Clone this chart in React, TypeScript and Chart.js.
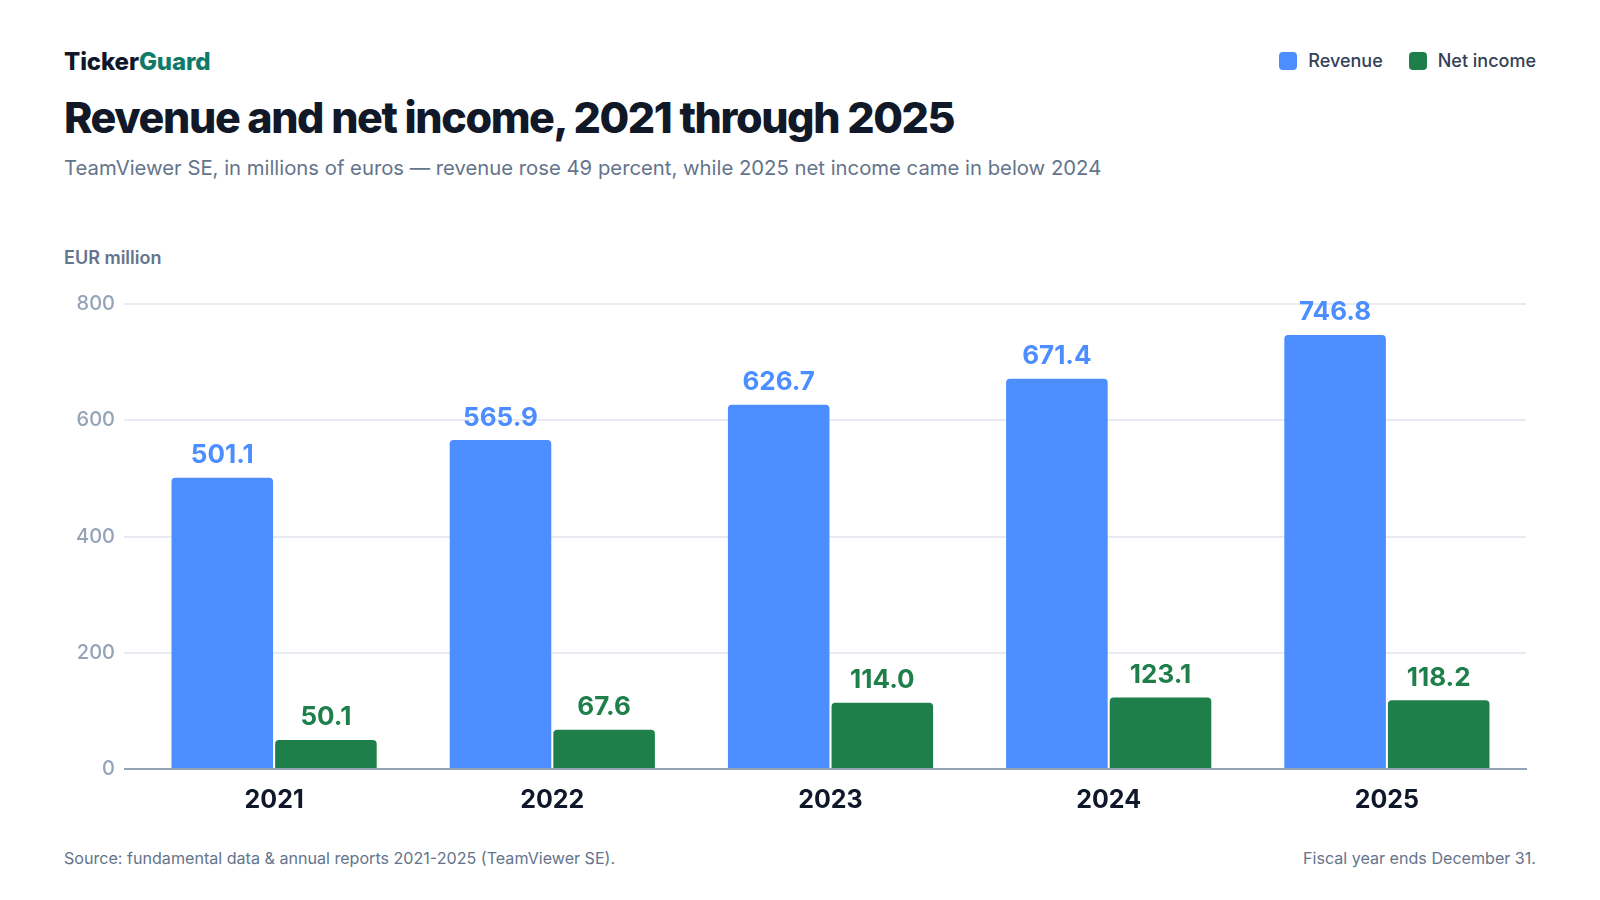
import { useEffect, useRef } from 'react';
import { Chart, registerables } from 'chart.js';

Chart.register(...registerables);

const years = ['2021', '2022', '2023', '2024', '2025'];
const revenue = [501.1, 565.9, 626.7, 671.4, 746.8];
const netIncome = [50.1, 67.6, 114.0, 123.1, 118.2];
const yTicks = [0, 200, 400, 600, 800];

const BLUE = '#4c8dff';
const GREEN = '#1e7f4b';
const AXIS = '#94a3b8';
const FONT = 'Inter, "Noto Sans", sans-serif';

// draws the value above every bar
const valueLabels = {
  id: 'valueLabels',
  afterDatasetsDraw(chart) {
    const ctx = chart.ctx;
    ctx.save();
    ctx.font = `700 26px ${FONT}`;
    ctx.textAlign = 'center';
    ctx.textBaseline = 'alphabetic';
    chart.data.datasets.forEach((ds, i) => {
      const meta = chart.getDatasetMeta(i);
      ctx.fillStyle = ds.backgroundColor;
      meta.data.forEach((bar, j) => {
        ctx.fillText(ds.data[j].toFixed(1), bar.x, bar.y - 14.5);
      });
    });
    ctx.restore();
  },
};

const BarChart = () => {
  const chartRef = useRef(null);

  useEffect(() => {
    const ctx = chartRef.current.getContext('2d');

    const chart = new Chart(ctx, {
      type: 'bar',
      data: {
        labels: years,
        datasets: [
          {
            label: 'Revenue',
            data: revenue,
            backgroundColor: BLUE,
            borderRadius: 4,
            categoryPercentage: 0.745,
            barPercentage: 0.98,
          },
          {
            label: 'Net income',
            data: netIncome,
            backgroundColor: GREEN,
            borderRadius: 4,
            categoryPercentage: 0.745,
            barPercentage: 0.98,
          },
        ],
      },
      plugins: [valueLabels],
      options: {
        animation: false,
        responsive: false,
        maintainAspectRatio: false,
        layout: { padding: { top: 34, right: 10, bottom: 0, left: 0 } },
        plugins: {
          legend: { display: false },
          tooltip: { enabled: false },
        },
        scales: {
          x: {
            z: 1, // axis line sits on top of the bar bottoms
            grid: { display: false, drawTicks: false },
            border: { display: true, color: AXIS, width: 2 },
            ticks: {
              padding: 16,
              color: '#0f172a',
              font: { family: FONT, size: 25, weight: '700' },
            },
          },
          y: {
            min: yTicks[0],
            max: yTicks[yTicks.length - 1],
            afterFit: (scale) => {
              scale.width = 71;
            },
            afterBuildTicks: (scale) => {
              scale.ticks = yTicks.map((v) => ({ value: v }));
            },
            grid: {
              color: (c) => (c.tick && c.tick.value === 0 ? AXIS : '#e8ecf2'),
              lineWidth: 2,
              drawTicks: true,
              tickLength: 11,
            },
            border: { display: false },
            ticks: {
              padding: 9,
              color: AXIS,
              font: { family: FONT, size: 20, weight: '500' },
            },
          },
        },
      },
    });

    return () => {
      chart.destroy();
    };
  }, []);

  return (
    <canvas
      ref={chartRef}
      width={1472}
      height={561}
      style={{ position: 'absolute', left: 64, top: 270, width: 1472, height: 561 }}
    ></canvas>
  );
};

const text = (top, size, weight, color, extra = {}) => ({
  position: 'absolute',
  top,
  fontFamily: FONT,
  fontSize: size,
  fontWeight: weight,
  lineHeight: `${size}px`,
  color,
  whiteSpace: 'nowrap',
  ...extra,
});

const swatch = (color) => ({
  display: 'inline-block',
  width: 18,
  height: 18,
  borderRadius: 4,
  background: color,
  marginRight: 11,
});

const App = () => {
  return (
    <div style={{ position: 'absolute', left: 0, top: 0, width: 1600, height: 900, background: '#fff', overflow: 'hidden' }}>
      <div style={text(50, 24, 800, '#0f172a', { left: 64, letterSpacing: -0.1 })}>
        Ticker<span style={{ color: '#0f7a68' }}>Guard</span>
      </div>
      <div style={text(52, 18, 500, '#334155', { right: 64, display: 'flex', alignItems: 'center' })}>
        <span style={swatch(BLUE)}></span>
        <span style={{ marginRight: 26 }}>Revenue</span>
        <span style={swatch(GREEN)}></span>
        <span>Net income</span>
      </div>
      <div style={text(96, 43, 800, '#111827', { left: 64, letterSpacing: -1.4 })}>
        Revenue and net income, 2021 through 2025
      </div>
      <div style={text(158, 20.3, 400, '#64748b', { left: 64 })}>
        TeamViewer SE, in millions of euros — revenue rose 49 percent, while 2025 net income came in below 2024
      </div>
      <div style={text(248.5, 18, 600, '#64748b', { left: 64 })}>EUR million</div>
      <BarChart />
      <div style={text(849.5, 16.1, 400, '#64748b', { left: 64 })}>
        Source: fundamental data &amp; annual reports 2021-2025 (TeamViewer SE).
      </div>
      <div style={text(849.5, 16.1, 400, '#64748b', { right: 64 })}>Fiscal year ends December 31.</div>
    </div>
  );
};

export default App;
